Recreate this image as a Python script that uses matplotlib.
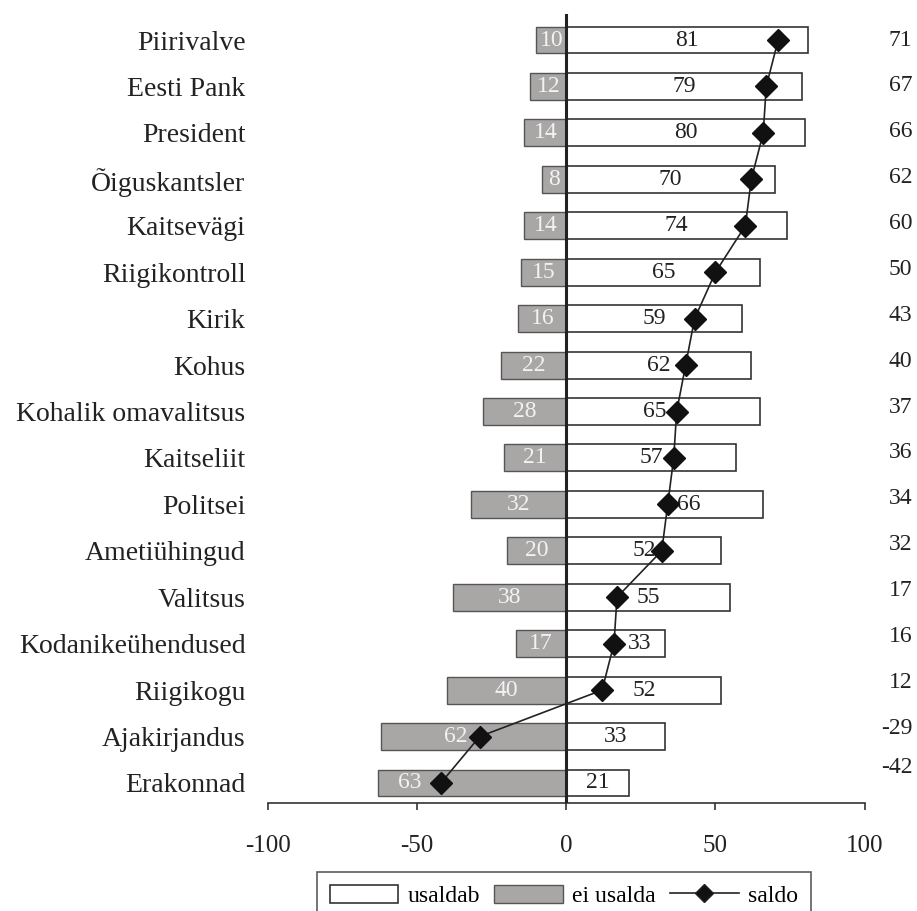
import matplotlib
matplotlib.use("Agg")
import matplotlib.pyplot as plt
from matplotlib.patches import Patch
from matplotlib.lines import Line2D

plt.rcParams['font.family'] = ['Liberation Serif', 'DejaVu Serif']

# andmed
asutused = ["Piirivalve", "Eesti Pank", "President", "Õiguskantsler", "Kaitsevägi",
            "Riigikontroll", "Kirik", "Kohus", "Kohalik omavalitsus", "Kaitseliit",
            "Politsei", "Ametiühingud", "Valitsus", "Kodanikeühendused", "Riigikogu",
            "Ajakirjandus", "Erakonnad"]
usaldab = [81, 79, 80, 70, 74, 65, 59, 62, 65, 57, 66, 52, 55, 33, 52, 33, 21]
ei_usalda = [10, 12, 14, 8, 14, 15, 16, 22, 28, 21, 32, 20, 38, 17, 40, 62, 63]
saldo = [71, 67, 66, 62, 60, 50, 43, 40, 37, 36, 34, 32, 17, 16, 12, -29, -42]
xticks = [-100, -50, 0, 50, 100]

# sildi nihked (et ei läheks rombiga kokku)
nihe_pos = {"Politsei": 8, "Kodanikeühendused": 8, "Kohalik omavalitsus": -3}
nihe_neg = {"Ajakirjandus": -6, "Erakonnad": -21}
nihe_saldo = {"Erakonnad": -0.15}

grey = "#a9a6a6"
y = list(range(len(asutused)))

fig = plt.figure(figsize=(9.17, 9.11), dpi=100)
ax = fig.add_axes([0.292, 0.1186, 0.651, 0.866])

ax.barh(y, usaldab, height=0.58, color="white", edgecolor="#333333", linewidth=1.2, zorder=2)
ax.barh(y, [-v for v in ei_usalda], height=0.58, color=grey, edgecolor="#555555",
        linewidth=1.0, zorder=2)
ax.axvline(0, color="#222222", linewidth=2.2, zorder=3)
ax.plot(saldo, y, color="#222222", linewidth=1.2, marker="D", markersize=11,
        markerfacecolor="#111111", markeredgecolor="#111111", zorder=5)

for i, name in enumerate(asutused):
    xp = usaldab[i] / 2 + nihe_pos.get(name, 0)
    ax.text(xp, i, str(usaldab[i]), ha="center", va="center", fontsize=17,
            color="#222222", zorder=4)
    xn = -ei_usalda[i] / 2 + nihe_neg.get(name, 0)
    ax.text(xn, i, str(ei_usalda[i]), ha="center", va="center", fontsize=17,
            color="#f2f2f2", zorder=4)
    ys = i - 0.012 * i + nihe_saldo.get(name, 0)
    ax.text(116, ys, str(saldo[i]), ha="right", va="center", fontsize=17,
            color="#222222", clip_on=False)

ax.set_xlim(-100, 100)
ax.set_ylim(len(asutused) - 1 + 0.43, -0.56)
ax.set_yticks(y)
ax.set_yticklabels(asutused, fontsize=20, color="#222222")
ax.tick_params(axis="y", length=0, pad=16)
ax.set_xticks(xticks)
ax.set_xticklabels([str(t) for t in xticks], fontsize=18, color="#222222")
ax.tick_params(axis="x", direction="out", length=5, width=1.2, pad=18, color="#333333")

for s in ["left", "right", "top"]:
    ax.spines[s].set_visible(False)
ax.spines["bottom"].set_linewidth(1.2)
ax.spines["bottom"].set_color("#333333")

handles = [
    Patch(facecolor="white", edgecolor="#333333", linewidth=1.2, label="usaldab"),
    Patch(facecolor=grey, edgecolor="#555555", linewidth=1.0, label="ei usalda"),
    Line2D([0], [0], color="#222222", linewidth=1.2, marker="D", markersize=9,
           markerfacecolor="#111111", label="saldo"),
]
leg = fig.legend(handles=handles, loc="upper center", bbox_to_anchor=(0.615, 0.043),
                 ncol=3, fontsize=17, frameon=True, fancybox=False, edgecolor="#333333",
                 handlelength=2.9, handleheight=0.8, columnspacing=0.6, handletextpad=0.4,
                 borderpad=0.55, borderaxespad=0)
leg.get_frame().set_linewidth(1.2)

fig.savefig("out.png", dpi=100)
